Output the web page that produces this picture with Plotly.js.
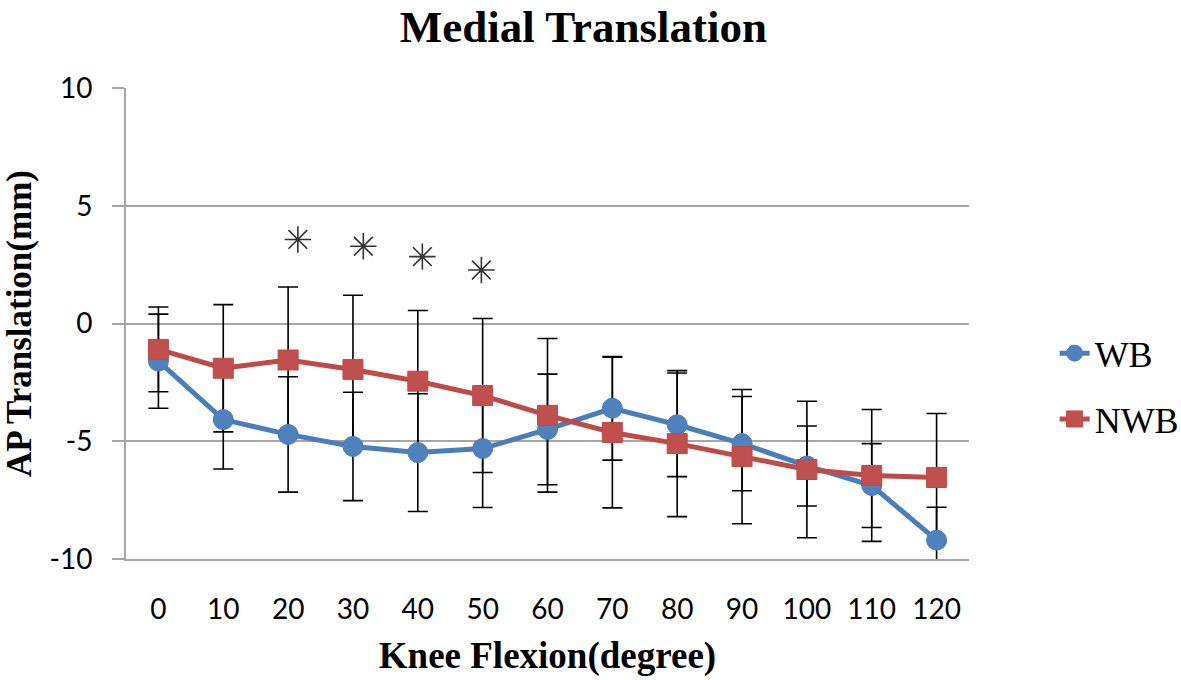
<!DOCTYPE html>
<html>
<head>
<meta charset="utf-8">
<script src="https://cdn.plot.ly/plotly-3.0.1.min.js"></script>
<style>
  html, body { margin: 0; padding: 0; background: #fff; }
  #chart { width: 1181px; height: 680px; }
</style>
</head>
<body>
<div id="chart"></div>
<script>
// Knee flexion angles (degrees)
const flexion = [0, 10, 20, 30, 40, 50, 60, 70, 80, 90, 100, 110, 120];

// Weight-bearing (WB) mean translation and SD (mm)
const wbMean = [-1.6, -4.08, -4.71, -5.22, -5.48, -5.31, -4.5, -3.6, -4.3, -5.1, -6.05, -6.88, -9.2];
const wbSD   = [2.0, 2.1, 2.45, 2.3, 2.5, 2.5, 2.35, 2.2, 2.2, 2.0, 1.7, 1.78, 1.4];

// Non-weight-bearing (NWB) mean translation and SD (mm)
const nwbMean = [-1.1, -1.9, -1.55, -1.95, -2.45, -3.06, -3.9, -4.63, -5.1, -5.65, -6.2, -6.45, -6.54];
const nwbSD   = [1.8, 2.7, 3.1, 3.15, 3.0, 3.27, 3.26, 3.2, 3.1, 2.85, 2.9, 2.8, 2.72];

// Significance markers (asterisks)
const sigX = [21.5, 31.6, 40.7, 49.8];
const sigY = [3.57, 3.28, 2.84, 2.27];

const xTicks = [0, 10, 20, 30, 40, 50, 60, 70, 80, 90, 100, 110, 120];
const yTicks = [-10, -5, 0, 5, 10];

const errStyle = (sd) => ({
  type: 'data', array: sd, visible: true,
  color: '#000000', thickness: 1.6, width: 10
});

const traces = [
  // error bars first so markers sit on top
  { x: flexion, y: wbMean, mode: 'markers', showlegend: false, hoverinfo: 'skip',
    marker: { color: 'rgba(0,0,0,0)', size: 1 }, error_y: errStyle(wbSD) },
  { x: flexion, y: nwbMean, mode: 'markers', showlegend: false, hoverinfo: 'skip',
    marker: { color: 'rgba(0,0,0,0)', size: 1 }, error_y: errStyle(nwbSD) },
  { x: flexion, y: wbMean, name: 'WB', mode: 'lines+markers', legendgroup: 'a',
    line: { color: '#4A7EBB', width: 5 },
    marker: { symbol: 'circle', size: 20, color: '#4F81BD', line: { color: '#4A7EBB', width: 1 } } },
  { x: flexion, y: nwbMean, name: 'NWB', mode: 'lines+markers', legendgroup: 'b',
    line: { color: '#BE4B48', width: 5 },
    marker: { symbol: 'square', size: 20, color: '#C0504D', line: { color: '#BE4B48', width: 1 } } },
  { x: sigX, y: sigY, mode: 'markers', showlegend: false, hoverinfo: 'skip',
    marker: { symbol: 'asterisk-open', size: 22, color: '#333333', line: { color: '#333333', width: 1.6 } } }
];

const layout = {
  width: 1181, height: 680,
  margin: { l: 126, r: 212, t: 88, b: 121, pad: 0 },
  paper_bgcolor: '#ffffff', plot_bgcolor: '#ffffff',
  title: {
    text: '<b>Medial Translation</b>',
    font: { family: 'Liberation Serif, Times New Roman, serif', size: 45, color: '#000' },
    x: 0.494, xref: 'container', xanchor: 'center',
    y: 0.962, yref: 'container', yanchor: 'middle'
  },
  xaxis: {
    range: [-5, 125], tickvals: xTicks, ticktext: xTicks.map(String),
    showgrid: false, zeroline: false, showline: true, linecolor: '#A6A6A6', linewidth: 2,
    ticks: '', ticklabelstandoff: 24,
    tickfont: { family: 'Lato, Carlito, Calibri, sans-serif', size: 28, color: '#000' },
    title: { text: '<b>Knee Flexion(degree)</b>', standoff: 19,
      font: { family: 'Liberation Serif, Times New Roman, serif', size: 37, color: '#000' } }
  },
  yaxis: {
    range: [-10, 10], tickvals: yTicks, ticktext: yTicks.map(String),
    showgrid: true, gridcolor: '#A6A6A6', gridwidth: 2,
    zeroline: false, showline: true, linecolor: '#A6A6A6', linewidth: 2,
    ticks: 'outside', ticklen: 12, tickwidth: 2, tickcolor: '#A6A6A6', ticklabelstandoff: 14,
    tickfont: { family: 'Lato, Carlito, Calibri, sans-serif', size: 28, color: '#000' },
    title: { text: '<b>AP Translation(mm)</b>', standoff: 10,
      font: { family: 'Liberation Serif, Times New Roman, serif', size: 35, color: '#000' } }
  },
  legend: {
    xref: 'container', yref: 'container', x: 0.893, y: 0.432, yanchor: 'middle', xanchor: 'left',
    font: { family: 'Liberation Serif, Times New Roman, serif', size: 36, color: '#000' },
    tracegroupgap: 16, bgcolor: 'rgba(0,0,0,0)', itemwidth: 30
  },
  showlegend: true
};

Plotly.newPlot('chart', traces, layout, { displayModeBar: false, staticPlot: true });
</script>
</body>
</html>
